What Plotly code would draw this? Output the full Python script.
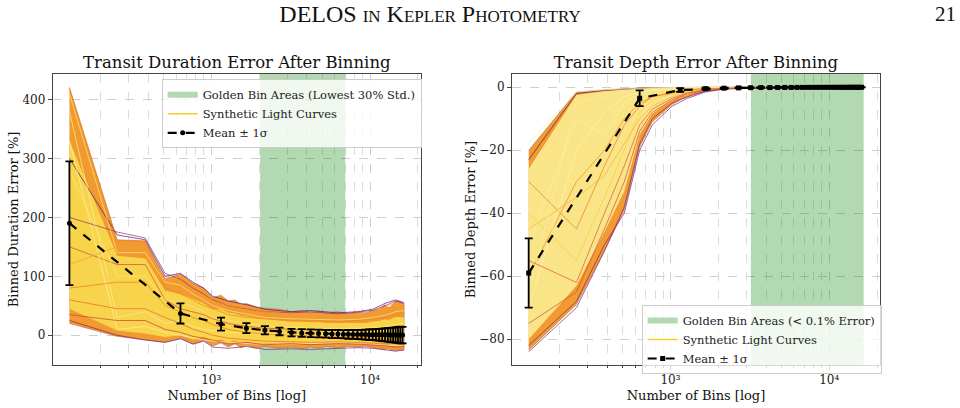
import plotly.graph_objects as go

# ---------------- data ----------------
MEAN_X = [128, 640, 1152, 1664, 2176, 2688, 3200, 3712, 4224, 4736, 5248, 5760, 6272, 6784,
          7296, 7808, 8320, 8832, 9344, 9856, 10368, 10880, 11392, 11904, 12416, 12928,
          13440, 13952, 14464, 14976, 15488, 16000]

# Duration error (left)
DUR_MEAN = [190, 37, 19, 12, 8.5, 6.5, 4.5, 4, 3.5, 3, 2.5, 2.2, 2, 1.8, 1.6, 1.4, 1.3, 1.2,
            1.1, 1.0, 1.0, 0.9, 0.8, 0.8, 0.7, 0.7, 0.6, 0.6, 0.5, 0.5, 0.5, 0.4]
DUR_STD = [105, 17, 11, 8.5, 7, 6.5, 6.5, 6.5, 6.5, 6.5, 6.5, 7, 7, 7, 7.5, 7.5, 8, 8, 8.5,
           9, 9, 9.5, 10, 10.5, 11, 11.5, 12, 12.5, 13, 13.5, 14, 14]

DUR_BAND_X = [128, 256, 384, 512, 640, 768, 896, 1024, 1152, 1280, 1408, 1536, 1664, 1920,
              2176, 2688, 3200, 3712, 4224, 4736, 5248, 6272, 7296, 8320, 9344, 10368, 11392,
              12416, 12928, 13440, 14464, 15488, 16384]
DUR_UP = [420, 162, 160, 96, 104, 88, 80, 64, 68, 58, 60, 52, 54, 48, 46, 44, 40, 42, 38, 41,
          38, 40, 37, 39, 38, 42, 44, 52, 47, 48, 58, 57, 52]
DUR_LO = [20, -2, -8, -12, -5, -15, -9, -18, -13, -20, -15, -21, -17, -22, -19, -22, -20, -23,
          -20, -22, -19, -21, -19, -20, -19, -21, -22, -24, -23, -25, -26, -25, -24]
DUR_CORE_UP = [330, 135, 130, 76, 70, 62, 54, 44, 44, 38, 37, 33, 32, 29, 27, 25, 23, 23, 22,
               22, 21, 21, 21, 21, 21, 23, 24, 27, 26, 27, 31, 31, 30]
DUR_CORE_LO = [45, 8, 3, -3, 0, -7, -3, -10, -7, -12, -9, -13, -11, -14, -13, -14, -14, -15,
               -14, -14, -13, -14, -13, -13, -13, -14, -14, -15, -15, -16, -17, -17, -16]

DUR_CURVE_X = [128, 256, 384, 512, 640, 768, 896, 1024, 1280, 1664, 2176, 3200, 4224, 6272,
               8320, 10368, 12416, 14464, 16384]
DUR_CURVES = [
    ("#5b1570", [300, 170, 162, 100, 105, 90, 80, 66, 58, 52, 44, 40, 42, 38, 40, 44, 54, 60, 55]),
    ("#7a2470", [25, 0, -8, -12, -6, -15, -10, -20, -22, -19, -24, -23, -24, -22, -21, -22, -25, -27, -25]),
    ("#f38a1c", [420, 160, 160, 80, 70, 60, 50, 45, 35, 30, 28, 25, 26, 24, 25, 27, 30, 35, 38]),
    ("#d24a42", [150, 120, 120, 60, 45, 40, 35, 28, 20, 15, 12, 10, 9, 8, 9, 10, 12, 14, 15]),
    ("#fbf09a", [380, 30, 40, 20, 25, 15, 10, 8, 5, 3, 2, 1, 0, 0, 1, 0, -1, 0, 1]),
    ("#f8d23c", [250, 60, 60, 40, 30, 28, 20, 15, 12, 8, 6, 5, 4, 3, 2, 2, 3, 2, 1]),
    ("#ef7d1e", [80, 90, 90, 50, 40, 30, 25, 18, 10, 5, 2, 0, -2, -3, -4, -5, -6, -8, -9]),
    ("#fcf3a8", [330, 10, 15, 5, 0, -5, -8, -10, -12, -14, -15, -15, -14, -13, -14, -15, -17, -18, -18]),
    ("#9c2f66", [200, 175, 165, 105, 95, 80, 70, 60, 50, 45, 40, 38, 40, 36, 39, 42, 50, 58, 54]),
    ("#e8692a", [60, 45, 45, 30, 20, 10, 5, 0, -5, -8, -10, -11, -12, -11, -12, -13, -14, -15, -15]),
    ("#fce58a", [410, 140, 140, 90, 85, 70, 60, 50, 42, 36, 30, 28, 27, 26, 27, 30, 34, 40, 42]),
    ("#c8403f", [35, 25, 25, 10, 5, -2, -5, -8, -15, -12, -16, -14, -16, -14, -15, -16, -18, -20, -19]),
    ("#fde97a", [280, 100, 100, 60, 55, 48, 40, 30, 25, 20, 16, 14, 12, 11, 12, 13, 15, 18, 20]),
    ("#f4a03a", [120, 150, 150, 92, 100, 85, 75, 58, 50, 46, 40, 36, 35, 34, 35, 40, 48, 55, 50]),
]
DUR_GOLD = [2030, 6970]

# Depth error (right)
DEP_MEAN = [-59, -3.5, -0.9, -0.45, -0.3, -0.2, -0.15, -0.1, -0.1, -0.08, -0.07, -0.06, -0.05,
            -0.05, -0.04, -0.04, -0.03, -0.03, -0.03, -0.03, -0.02, -0.02, -0.02, -0.02, -0.02,
            -0.02, -0.01, -0.01, -0.01, -0.01, -0.01, -0.01]
DEP_STD = [11, 2.5, 0.6, 0.3, 0.2, 0.15, 0.1, 0.1, 0.08, 0.07, 0.06, 0.05, 0.05, 0.05, 0.04,
           0.04, 0.04, 0.03, 0.03, 0.03, 0.03, 0.03, 0.02, 0.02, 0.02, 0.02, 0.02, 0.02, 0.02,
           0.02, 0.02, 0.02]

DEP_BAND_X = [128, 256, 384, 512, 640, 768, 896, 1024, 1152, 1280, 1408, 1664, 1920, 2176,
              2688, 3200, 4224, 6272, 10368, 16384]
DEP_UP = [-20, -1.5, -0.8, -0.4, -0.2, -0.1, -0.05, 0, 0, 0, 0, 0, 0, 0, 0, 0, 0, 0, 0, 0]
DEP_LO = [-83.5, -69, -52, -39, -19, -11, -8, -5.5, -4, -3, -2.3, -1.3, -0.9, -0.6, -0.35,
          -0.25, -0.15, -0.08, -0.05, -0.03]
DEP_CORE_UP = [-26, -2.5, -1.3, -0.7, -0.4, -0.2, -0.1, -0.05, 0, 0, 0, 0, 0, 0, 0, 0, 0, 0, 0, 0]
DEP_CORE_LO = [-80, -63, -46, -33, -15, -8.5, -6, -4.2, -3, -2.3, -1.7, -0.9, -0.6, -0.4,
               -0.25, -0.18, -0.1, -0.06, -0.04, -0.02]

DEP_CURVE_X = [128, 256, 384, 512, 640, 768, 1024, 1280, 1664, 2176, 3200, 16384]
DEP_CURVES = [
    ("#5b1570", [-23, -2, -1, -0.5, -0.3, -0.2, -0.1, 0, 0, 0, 0, 0]),
    ("#8a2a6a", [-84, -70, -52, -38, -18, -10, -5, -3, -1.2, -0.5, -0.2, 0]),
    ("#fbf09a", [-17.7, -1.5, -0.8, -0.5, -0.3, -0.2, -0.1, 0, 0, 0, 0, 0]),
    ("#f38a1c", [-60, -30, -20, -10, -5, -3, -2, -1, -0.5, -0.2, 0, 0]),
    ("#f8d23c", [-40, -55, -35, -20, -8, -4, -2, -1, -0.5, -0.2, 0, 0]),
    ("#d24a42", [-75, -65, -45, -30, -14, -8, -4, -2, -1, -0.4, -0.1, 0]),
    ("#fcf3a8", [-50, -10, -15, -5, -2, -1, -0.5, -0.2, 0, 0, 0, 0]),
    ("#ef7d1e", [-30, -45, -25, -12, -6, -3, -1.5, -0.8, -0.4, -0.2, 0, 0]),
    ("#7a2470", [-82, -68, -50, -40, -20, -12, -6, -3.5, -1.5, -0.6, -0.2, 0]),
    ("#fdf5b0", [-70, -20, -8, -3, -1.5, -0.8, -0.3, -0.1, 0, 0, 0, 0]),
    ("#f6b43a", [-45, -35, -28, -18, -10, -6, -3, -1.5, -0.7, -0.3, -0.1, 0]),
    ("#fcef9c", [-65, -5, -3, -1.5, -0.8, -0.4, -0.2, 0, 0, 0, 0, 0]),
    ("#e0583a", [-55, -62, -40, -25, -12, -7, -3.5, -1.8, -0.8, -0.3, -0.1, 0]),
]
DEP_GOLD = [3210, 16480]

X_RANGE = [2.002, 4.32]
DUR_YRANGE = [-50.4, 443]
DEP_YRANGE = [-88.2, 4.2]

X_TICKS = [1000, 10000]
X_TICKTEXT = ["10³", "10⁴"]
MINOR_X = [200, 300, 400, 500, 600, 700, 800, 900, 2000, 3000, 4000, 5000, 6000, 7000, 8000,
           9000, 20000]

# ---------------- figure ----------------
FONT = "DejaVu Serif"
fig = go.Figure()


def add_panel(xa, ya, legend, gold, band_x, up, lo, cup, clo, cx, curves, mx, mean, std,
              yrange, symbol, gold_name, core_color):
    gx = [gold[0], gold[1], gold[1], gold[0], gold[0]]
    gy = [yrange[0], yrange[0], yrange[1], yrange[1], yrange[0]]
    fig.add_trace(go.Scatter(x=gx, y=gy, xaxis=xa, yaxis=ya, mode="none", fill="toself",
                             fillcolor="rgba(0,128,0,0.3)", name=gold_name, legend=legend,
                             hoverinfo="skip"))
    fig.add_trace(go.Scatter(x=band_x + band_x[::-1], y=up + lo[::-1], xaxis=xa, yaxis=ya,
                             mode="lines", line=dict(width=0.6, color="rgba(150,60,100,0.6)"),
                             fill="toself", fillcolor="#f19a30", showlegend=False,
                             hoverinfo="skip"))
    fig.add_trace(go.Scatter(x=band_x + band_x[::-1], y=cup + clo[::-1], xaxis=xa, yaxis=ya,
                             mode="none", fill="toself", fillcolor=core_color,
                             showlegend=False, hoverinfo="skip"))
    for color, ys in curves:
        fig.add_trace(go.Scatter(x=cx, y=ys, xaxis=xa, yaxis=ya, mode="lines",
                                 line=dict(color=color, width=1), opacity=0.7,
                                 showlegend=False, hoverinfo="skip"))
    fig.add_trace(go.Scatter(x=[None], y=[None], xaxis=xa, yaxis=ya, mode="lines",
                             line=dict(color="#f8cd25", width=1.5),
                             name="Synthetic Light Curves", legend=legend))
    fig.add_trace(go.Scatter(x=mx, y=mean, xaxis=xa, yaxis=ya, mode="lines+markers",
                             line=dict(color="black", width=2.2, dash="dash"),
                             marker=dict(color="black", size=5, symbol=symbol),
                             error_y=dict(type="data", array=std, color="black",
                                          thickness=1.8, width=4),
                             name="Mean ± 1σ", legend=legend))


add_panel("x", "y", "legend", DUR_GOLD, DUR_BAND_X, DUR_UP, DUR_LO, DUR_CORE_UP, DUR_CORE_LO,
          DUR_CURVE_X, DUR_CURVES, MEAN_X, DUR_MEAN, DUR_STD, DUR_YRANGE, "circle",
          "Golden Bin Areas (Lowest 30% Std.)", "#f8d44c")
add_panel("x2", "y2", "legend2", DEP_GOLD, DEP_BAND_X, DEP_UP, DEP_LO, DEP_CORE_UP,
          DEP_CORE_LO, DEP_CURVE_X, DEP_CURVES, MEAN_X, DEP_MEAN, DEP_STD, DEP_YRANGE,
          "square", "Golden Bin Areas (< 0.1% Error)", "#fae488")

TXT = "#111"
grid = dict(showgrid=True, gridcolor="#cfcfcf", griddash="dash", gridwidth=0.8)
frame = dict(showline=True, linecolor="#444", linewidth=1, mirror=True, ticks="outside",
             ticklen=4, tickcolor="#444", tickfont=dict(family=FONT, size=12, color="#222"),
             zeroline=False)
xcommon = dict(type="log", range=X_RANGE, tickvals=X_TICKS, ticktext=X_TICKTEXT,
               minor=dict(tickvals=MINOR_X, ticks="outside", ticklen=2.5, tickcolor="#444",
                          showgrid=True, gridcolor="#dcdcdc", griddash="dash"),
               title=dict(text="Number of Bins [log]", standoff=4,
                          font=dict(family=FONT, size=13, color=TXT)),
               **grid, **frame)
top_axis = dict(type="log", range=X_RANGE, side="top", showticklabels=False, ticks="",
                showgrid=False, showline=False, zeroline=False)

legend_common = dict(xanchor="left", yanchor="top", bgcolor="rgba(255,255,255,0.8)",
                     bordercolor="#cccccc", borderwidth=1,
                     font=dict(family=FONT, size=11.5, color="#222"), tracegroupgap=0,
                     itemwidth=30)

LEFT_DOM = [0.0549, 0.4385]
RIGHT_DOM = [0.5333, 0.9167]
Y_DOM = [0.1054, 0.8186]

fig.update_layout(
    width=960, height=408, margin=dict(l=0, r=0, t=0, b=0),
    paper_bgcolor="white", plot_bgcolor="white",
    title=dict(text="DELOS in Kepler Photometry",
               x=430 / 960, y=1 - 14 / 408, xref="paper", yref="paper",
               xanchor="center", yanchor="middle",
               font=dict(family="Liberation Serif", size=24, color=TXT,
                         variant="small-caps")),
    xaxis=dict(domain=LEFT_DOM, anchor="y", **xcommon),
    yaxis=dict(domain=Y_DOM, anchor="x", range=DUR_YRANGE,
               tickvals=[0, 100, 200, 300, 400],
               title=dict(text="Binned Duration Error [%]", standoff=0,
                          font=dict(family=FONT, size=13, color=TXT)),
               **grid, **frame),
    xaxis2=dict(domain=RIGHT_DOM, anchor="y2", **xcommon),
    yaxis2=dict(domain=Y_DOM, anchor="x2", range=DEP_YRANGE,
                tickvals=[-80, -60, -40, -20, 0], ticktext=["−80", "−60", "−40", "−20", "0"],
                title=dict(text="Binned Depth Error [%]", standoff=0,
                           font=dict(family=FONT, size=13, color=TXT)),
                **grid, **frame),
    xaxis3=dict(domain=LEFT_DOM, anchor="y", overlaying="x", **top_axis,
                title=dict(text="Transit Duration Error After Binning", standoff=0,
                           font=dict(family=FONT, size=16.5, color=TXT))),
    xaxis4=dict(domain=RIGHT_DOM, anchor="y2", overlaying="x2", **top_axis,
                title=dict(text="Transit Depth Error After Binning", standoff=0,
                           font=dict(family=FONT, size=16.5, color=TXT))),
    legend=dict(x=0.1684, y=0.8056, **legend_common),
    legend2=dict(x=0.6684, y=0.2525, **legend_common),
    showlegend=True,
)

# invisible anchors so the top axes (panel titles) are drawn
fig.add_trace(go.Scatter(x=[None], y=[None], xaxis="x3", yaxis="y", showlegend=False,
                         hoverinfo="skip"))
fig.add_trace(go.Scatter(x=[None], y=[None], xaxis="x4", yaxis="y2", showlegend=False,
                         hoverinfo="skip"))

fig.add_annotation(text="21", x=945 / 960, y=1 - 14 / 408, xref="paper", yref="paper",
                   showarrow=False, xanchor="center", yanchor="middle",
                   font=dict(family="Liberation Serif", size=21, color=TXT))

fig.write_html("out.html")
